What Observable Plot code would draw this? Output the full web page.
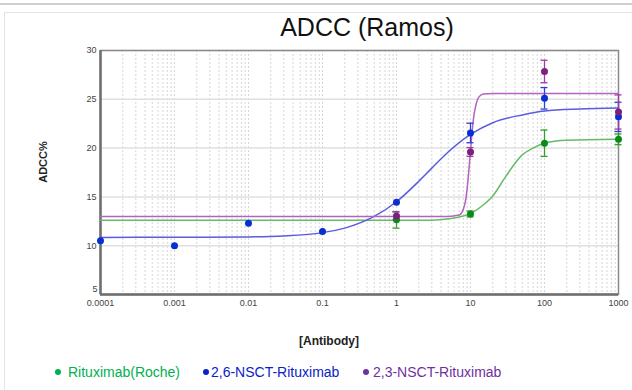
<!DOCTYPE html>
<html><head><meta charset="utf-8">
<script src="https://cdn.jsdelivr.net/npm/d3@7"></script>
<script src="https://cdn.jsdelivr.net/npm/@observablehq/plot@0.6"></script>
<style>
body{margin:0;background:#fff;}
#wrap{position:relative;width:632px;height:390px;overflow:hidden;font-family:"Liberation Sans",Arial,sans-serif;}
#topline{position:absolute;left:0;top:3px;width:632px;height:2px;background:#cfcfcf;}
#box{position:absolute;left:4px;top:12px;width:640px;height:400px;border:1px solid #e3e3e3;}
#chart{position:absolute;left:0;top:0;}
.t{position:absolute;white-space:nowrap;}
#title{left:367px;top:15px;font-size:25px;line-height:25px;color:#111;transform:translateX(-50%);}
#ylab{left:43px;top:162px;font-size:11px;line-height:11px;font-weight:bold;color:#222;transform:translate(-50%,-50%) rotate(-90deg);}
#xlab{left:329px;top:335px;font-size:12px;line-height:12px;font-weight:bold;color:#222;transform:translateX(-50%);}
.leg{position:absolute;top:365px;font-size:14px;line-height:14px;white-space:nowrap;}
.dotl{position:absolute;width:6px;height:6px;border-radius:50%;top:369px;}
</style></head><body>
<div id="wrap">
  <div id="topline"></div>
  <div id="box"></div>
  <div id="chart"></div>
  <div class="t" id="title">ADCC (Ramos)</div>
  <div class="t" id="ylab">ADCC%</div>
  <div class="t" id="xlab">[Antibody]</div>
  <div id="legend"></div>
</div>
<script>
// axis ticks
const xTicks = [0.0001, 0.001, 0.01, 0.1, 1, 10, 100, 1000];
const xTickLabels = ["0.0001", "0.001", "0.01", "0.1", "1", "10", "100", "1000"];
const yTicks = [5, 10, 15, 20, 25, 30];

// series names and colours
const seriesNames = ["Rituximab(Roche)", "2,6-NSCT-Rituximab", "2,3-NSCT-Rituximab"];
const legendColors = ["#00b050", "#0a22c8", "#7030a0"];
const dotColors = ["#0a8a1a", "#0a2fd0", "#7d1f7d"];
const lineColors = ["#66bb66", "#5b5be0", "#b462c4"];
const barColors = ["#2e9e2e", "#2e3fd8", "#a23aa6"];

// measured points (mean ± error)
const rocheX = [1, 10, 100, 1000];
const rocheMean = [12.65, 13.25, 20.5, 20.9];
const rocheErr = [0.85, 0.3, 1.35, 0.55];

const nsct26X = [0.0001, 0.001, 0.01, 0.1, 1, 10, 100, 1000];
const nsct26Mean = [10.5, 10.0, 12.3, 11.45, 14.45, 21.55, 25.1, 23.2];
const nsct26Err = [0, 0, 0, 0, 0, 1.0, 1.1, 1.5];

const nsct23X = [1, 10, 100, 1000];
const nsct23Mean = [13.05, 19.6, 27.85, 23.7];
const nsct23Err = [0.4, 0.45, 1.15, 1.75];

// fitted curves
const rocheFitX = [0.0001, 0.001, 0.01, 0.1, 1, 3, 5, 10, 15, 20, 30, 50, 70, 100, 200, 1000];
const rocheFitY = [12.6, 12.6, 12.6, 12.6, 12.6, 12.62, 12.75, 13.3, 14.2, 15.1, 17.1, 19.3, 20.0, 20.5, 20.8, 20.9];

const nsct26FitX = [0.0001, 0.001, 0.01, 0.03, 0.1, 0.2, 0.5, 1, 2, 3, 5, 10, 20, 50, 100, 300, 1000];
const nsct26FitY = [10.85, 10.86, 10.9, 11.0, 11.34, 11.8, 13.0, 14.5, 16.6, 17.95, 19.6, 21.4, 22.6, 23.4, 23.8, 24.0, 24.1];

const nsct23FitX = [0.0001, 1, 5, 7, 8, 8.7, 9.3, 9.9, 10.5, 11.2, 12, 13, 15, 20, 1000];
const nsct23FitY = [13.0, 13.0, 13.0, 13.14, 13.74, 14.9, 16.9, 19.3, 21.6, 23.5, 24.6, 25.25, 25.54, 25.6, 25.6];

// build tables
const pts = (xs, ms, es, s) => xs.map((x, i) => ({x, m: ms[i], e: es[i], s}));
const fit = (xs, ys, s) => xs.map((x, i) => ({x, y: ys[i], s}));
const points = [
  pts(rocheX, rocheMean, rocheErr, 0),
  pts(nsct26X, nsct26Mean, nsct26Err, 1),
  pts(nsct23X, nsct23Mean, nsct23Err, 2)
];
const fits = [
  fit(rocheFitX, rocheFitY, 0),
  fit(nsct26FitX, nsct26FitY, 1),
  fit(nsct23FitX, nsct23FitY, 2)
];

// minor log grid positions
const minor = [];
for (let k = -4; k <= 2; k++) for (let d = 1; d <= 9; d++) minor.push(+(d * Math.pow(10, k)).toPrecision(6));
minor.push(1000);

const labelOf = new Map(xTicks.map((t, i) => [t, xTickLabels[i]]));
const capK = 1.115;
const lowTick = yTicks.slice(0, 1);
const otherTicks = yTicks.slice(1);

const marks = [
  Plot.ruleX(minor, {stroke: "#d6d6d6", strokeWidth: 1, strokeDasharray: "2,2"}),
  Plot.ruleY(yTicks, {stroke: "#e0e0e0", strokeWidth: 1.5}),
  Plot.frame({stroke: "#8a8a8a", strokeWidth: 1.5}),
  Plot.ruleX([0.0001], {stroke: "#6e6e6e", strokeWidth: 2.5}),
  Plot.ruleY([5], {stroke: "#6e6e6e", strokeWidth: 2.5}),
  Plot.text(otherTicks, {y: d => d, text: d => String(d), frameAnchor: "left", textAnchor: "end", dx: -4, fill: "#444", fontSize: 9}),
  Plot.text(lowTick, {y: d => d, text: d => String(d), frameAnchor: "left", textAnchor: "end", dx: -3, dy: -5, fill: "#444", fontSize: 9})
];
for (let s = 0; s < 3; s++) {
  marks.push(Plot.line(fits[s], {x: "x", y: "y", stroke: lineColors[s], strokeWidth: 1.5, curve: "monotone-x"}));
}
for (let s = 0; s < 3; s++) {
  const bars = points[s].filter(d => d.e > 0);
  marks.push(
    Plot.ruleX(bars, {x: "x", y1: d => d.m - d.e, y2: d => d.m + d.e, stroke: barColors[s], strokeWidth: 1.3}),
    Plot.ruleY(bars, {y: d => d.m + d.e, x1: d => d.x / capK, x2: d => d.x * capK, stroke: barColors[s], strokeWidth: 1.3}),
    Plot.ruleY(bars, {y: d => d.m - d.e, x1: d => d.x / capK, x2: d => d.x * capK, stroke: barColors[s], strokeWidth: 1.3})
  );
}
for (let s = 0; s < 3; s++) {
  marks.push(Plot.dot(points[s], {x: "x", y: "m", r: 3.5, fill: dotColors[s], stroke: "none"}));
}

const chart = Plot.plot({
  width: 632,
  height: 390,
  marginLeft: 100,
  marginRight: 14,
  marginTop: 50,
  marginBottom: 96,
  style: {fontFamily: "Liberation Sans, Arial, sans-serif", fontSize: "9px", color: "#444", background: "transparent", overflow: "visible"},
  x: {type: "log", domain: [0.0001, 1000], ticks: xTicks, tickFormat: d => labelOf.get(d), tickSize: 0, tickPadding: 5, label: null},
  y: {domain: [5, 30], axis: null},
  marks
});
document.getElementById("chart").appendChild(chart);

// legend
const legendDotX = [58, 206, 366];
const legendTextX = [68, 211, 373];
const leg = document.getElementById("legend");
seriesNames.forEach((name, i) => {
  const dot = document.createElement("div");
  dot.className = "dotl";
  dot.style.left = (legendDotX[i] - 3) + "px";
  dot.style.background = legendColors[i];
  leg.appendChild(dot);
  const t = document.createElement("div");
  t.className = "leg";
  t.style.left = legendTextX[i] + "px";
  t.style.color = legendColors[i];
  t.textContent = name;
  leg.appendChild(t);
});
</script>
</body></html>
